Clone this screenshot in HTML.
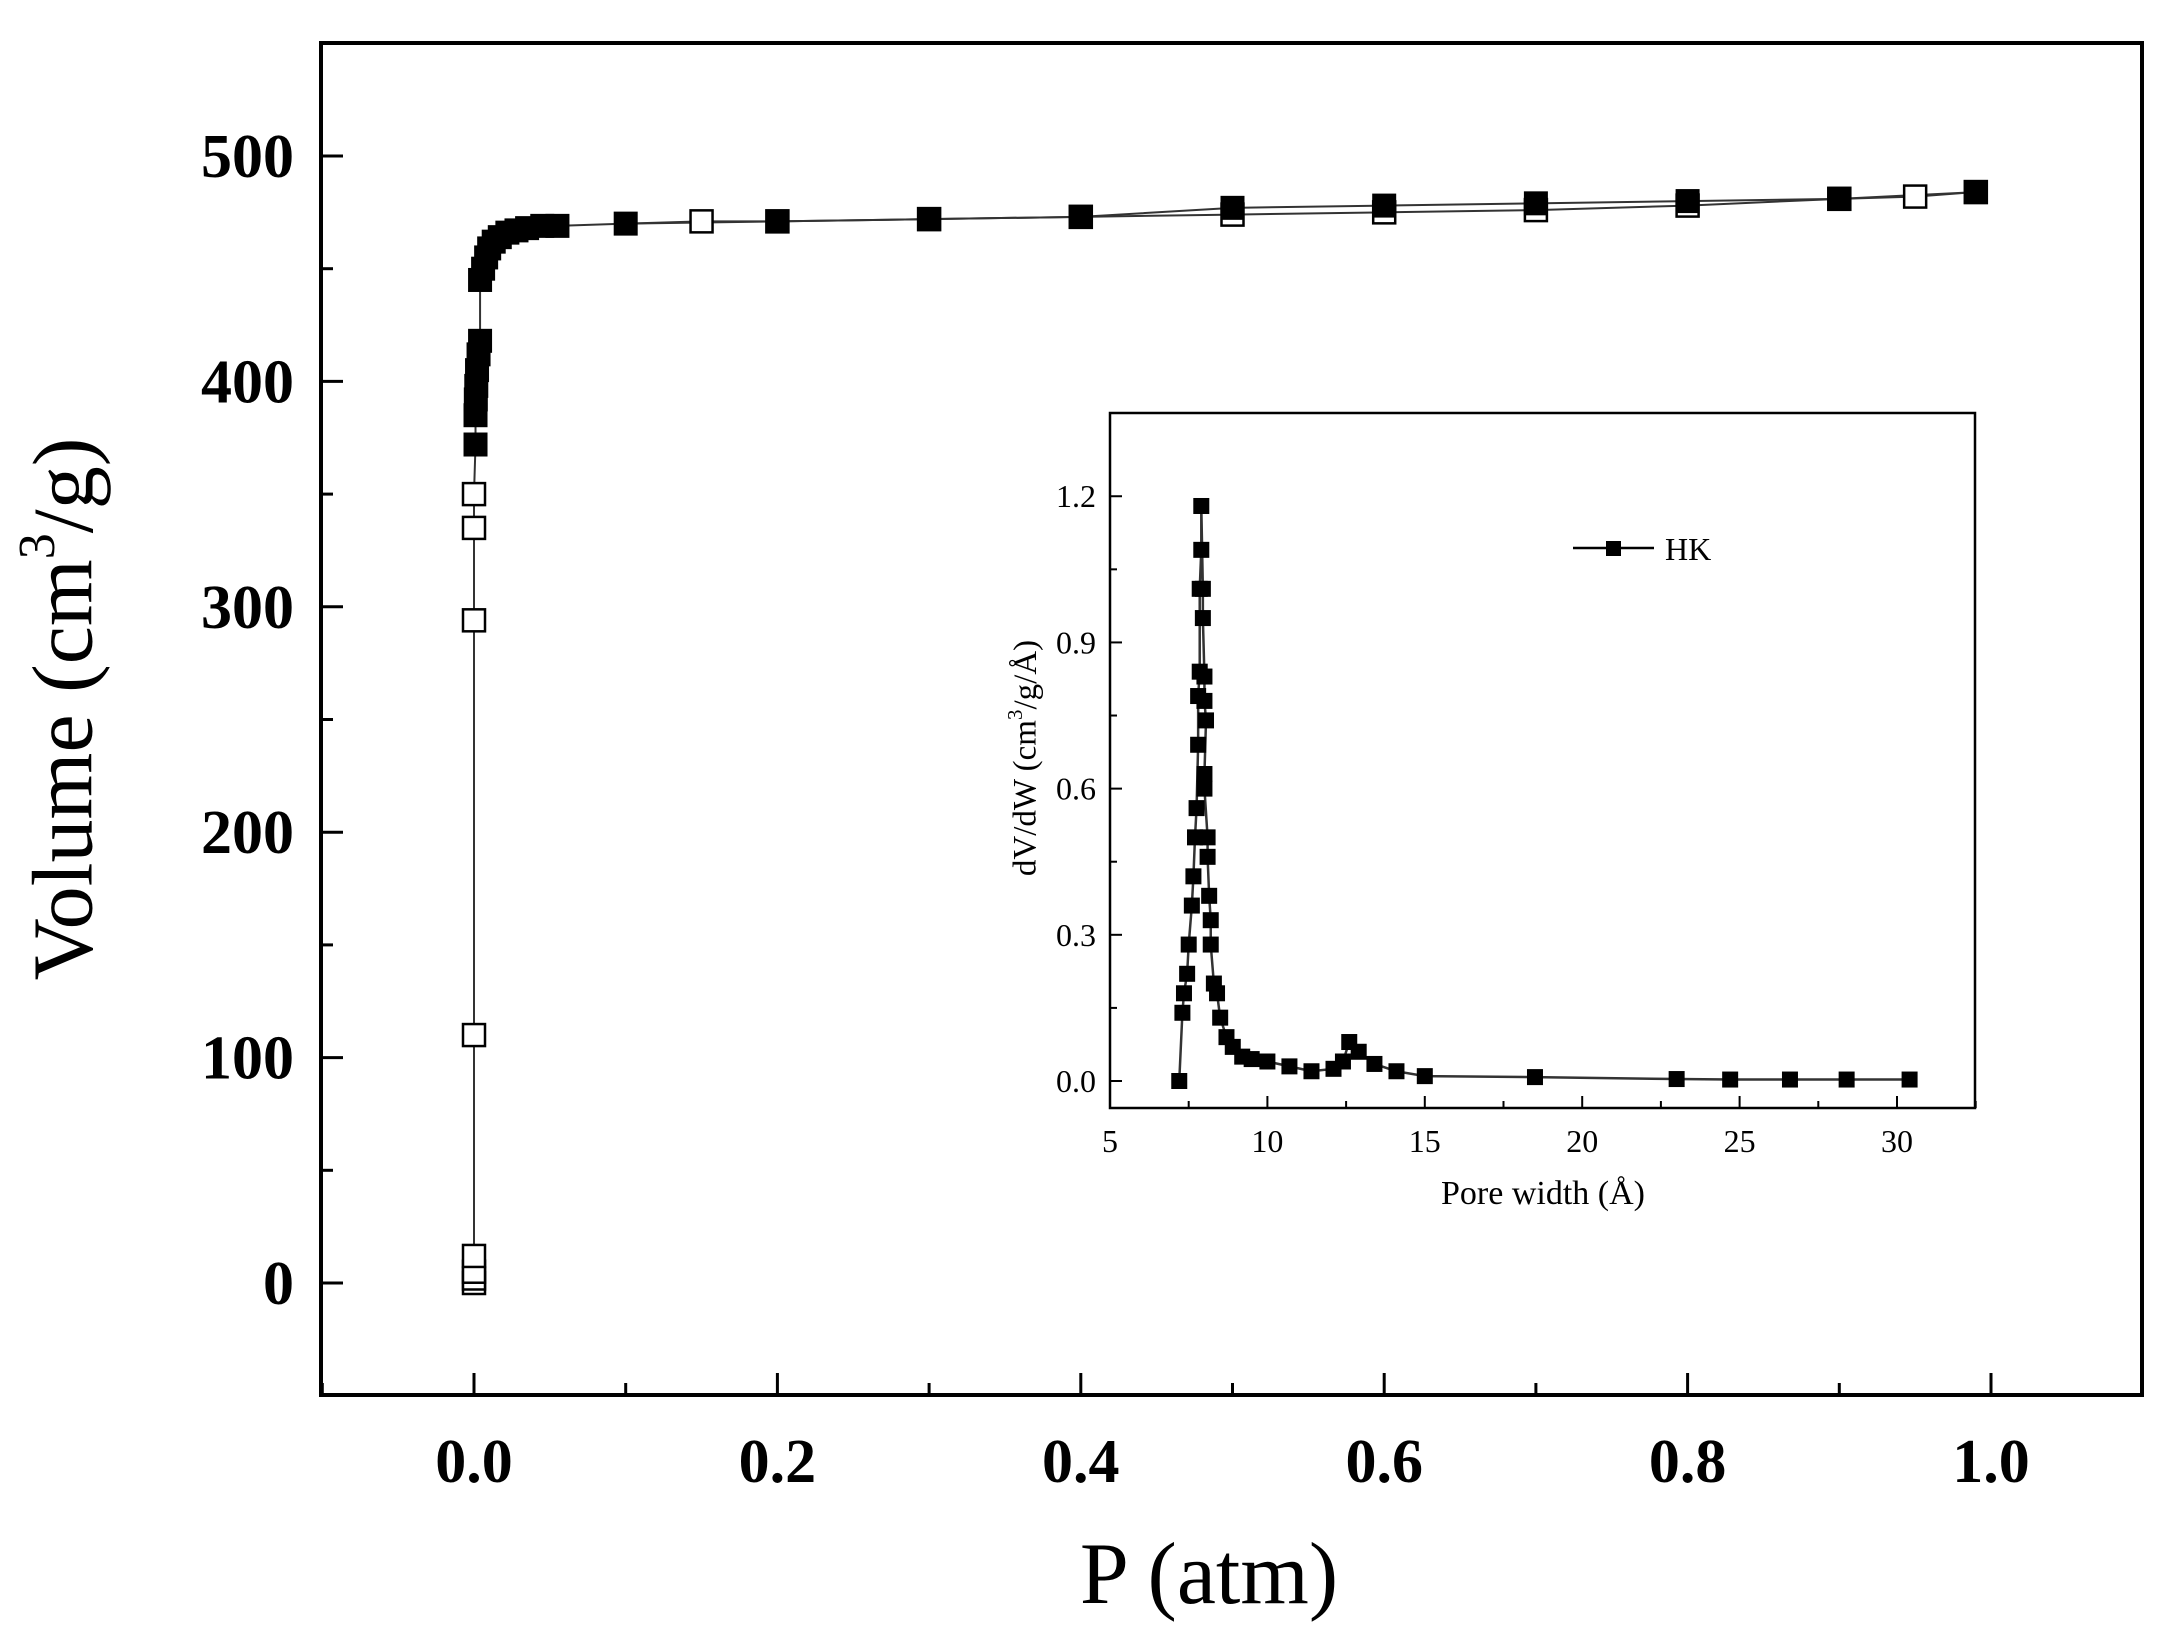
<!DOCTYPE html>
<html><head><meta charset="utf-8"><style>
html,body{margin:0;padding:0;background:#fff;}
svg{display:block;}
</style></head><body>
<svg id="s" width="2179" height="1643" xmlns="http://www.w3.org/2000/svg" font-family="Liberation Serif, serif">
<rect width="2179" height="1643" fill="#fff"/>
<rect x="321" y="43" width="1821" height="1352" fill="none" stroke="#000" stroke-width="4"/>
<g id="main"></g>
<text x="72" y="709" font-size="86" text-anchor="middle" transform="rotate(-90 72 709)" dominant-baseline="middle">Volume (cm<tspan font-size="52" dy="-30">3</tspan><tspan dy="30">/g)</tspan></text>
<text x="1209" y="1603" font-size="88" text-anchor="middle">P (atm)</text>
<rect x="990" y="405" width="990" height="820" fill="#fff"/>
<rect x="1110" y="413" width="865" height="695" fill="none" stroke="#000" stroke-width="2.5"/>
<g id="inset"></g>
<text x="1028" y="758" font-size="33" text-anchor="middle" transform="rotate(-90 1028 758)" dominant-baseline="middle">dV/dW (cm<tspan font-size="21" dy="-11">3</tspan><tspan dy="11">/g/Å)</tspan></text>
<text x="1543" y="1204" font-size="34" text-anchor="middle">Pore width (Å)</text>
<line x1="1573" y1="548" x2="1654" y2="548" stroke="#000" stroke-width="2.5"/>
<rect x="1606" y="541" width="15" height="15" fill="#000"/>
<text x="1665" y="560" font-size="32">HK</text>
</svg>
<script>
var NS="http://www.w3.org/2000/svg";
function el(p,t,a,txt){var e=document.createElementNS(NS,t);for(var k in a)e.setAttribute(k,a[k]);if(txt!==undefined)e.textContent=txt;p.appendChild(e);return e;}
var m=document.getElementById('main');
function X(p){return 474+p*1517;}function Y(v){return 1283-v*2.254;}
for(var i=-1;i<=11;i++){var x=474+i*151.7;if(x<321||x>2142)continue;var maj=(i%2==0);el(m,'line',{x1:x,y1:1395,x2:x,y2:1395-(maj?22:12),stroke:'#000','stroke-width':3});
if(maj&&i>=0&&i<=10)el(m,'text',{x:x,y:1482,'font-size':62,'font-weight':'bold','text-anchor':'middle'},(i/10).toFixed(1));}
for(var v=-50;v<=550;v+=50){var y=Y(v);if(y<43||y>1395)continue;var maj=(v%100==0);el(m,'line',{x1:321,y1:y,x2:321+(maj?22:12),y2:y,stroke:'#000','stroke-width':3});
if(maj)el(m,'text',{x:294,y:y+21,'font-size':62,'font-weight':'bold','text-anchor':'end'},v);}
var ads=[[0.001,372],[0.001,385],[0.0012,392],[0.0015,398],[0.002,405],[0.003,412],[0.004,418],[0.004,445],[0.006,450],[0.008,455],[0.01,459],[0.013,462],[0.017,464],[0.022,466],[0.028,467],[0.035,468],[0.045,469],[0.055,469],[0.1,470],[0.2,471],[0.3,472],[0.4,473],[0.5,477],[0.6,478],[0.7,479],[0.8,480],[0.9,481],[0.99,484]];
var desLow=[[0,0],[0,2],[0,5],[0,12],[0,110],[0,294],[0,335],[0,350],[0.001,372]];
var desHigh=[[0.1,470],[0.15,471],[0.2,471],[0.3,472],[0.4,473],[0.5,474],[0.6,475],[0.7,476],[0.8,478],[0.9,481],[0.95,482],[0.99,484]];
function pl(g,d,fx,fy,w){return el(g,'polyline',{points:d.map(function(q){return fx(q[0])+','+fy(q[1]);}).join(' '),fill:'none',stroke:'#333','stroke-width':w});}
pl(m,desLow,X,Y,2);pl(m,desHigh,X,Y,2);pl(m,ads,X,Y,2);
desLow.slice(0,8).concat(desHigh.slice(1)).forEach(function(q){el(m,'rect',{x:X(q[0])-11,y:Y(q[1])-11,width:22,height:22,fill:'#fff',stroke:'#000','stroke-width':2.5});});
ads.forEach(function(q){el(m,'rect',{x:X(q[0])-12,y:Y(q[1])-12,width:24,height:24,fill:'#000'});});
var n=document.getElementById('inset');
function IX(w){return 1110+(w-5)*31.48;}function IY(d){return 1081-d*487.3;}
for(var w=5;w<=32.5;w+=2.5){var x=IX(w);var maj=(w%5==0);el(n,'line',{x1:x,y1:1108,x2:x,y2:1108-(maj?12:7),stroke:'#000','stroke-width':2});
if(maj)el(n,'text',{x:x,y:1152,'font-size':32,'text-anchor':'middle'},w);}
for(var k=0;k<=8;k++){var d=k*0.15;var y=IY(d);var maj=(k%2==0);el(n,'line',{x1:1110,y1:y,x2:1110+(maj?12:7),y2:y,stroke:'#000','stroke-width':2});
if(maj)el(n,'text',{x:1096,y:y+11,'font-size':32,'text-anchor':'end'},d.toFixed(1));}
var hk=[[7.2,0],[7.3,0.14],[7.35,0.18],[7.45,0.22],[7.5,0.28],[7.6,0.36],[7.65,0.42],[7.7,0.5],[7.75,0.56],[7.8,0.69],[7.8,0.79],[7.85,0.84],[7.85,1.01],[7.9,1.09],[7.9,1.18],[7.95,1.01],[7.95,0.95],[8.0,0.83],[8.0,0.78],[8.05,0.74],[8.0,0.63],[8.0,0.6],[8.1,0.5],[8.1,0.46],[8.15,0.38],[8.2,0.33],[8.2,0.28],[8.3,0.2],[8.4,0.18],[8.5,0.13],[8.7,0.09],[8.9,0.07],[9.2,0.05],[9.5,0.045],[10,0.04],[10.7,0.03],[11.4,0.02],[12.1,0.025],[12.4,0.04],[12.6,0.08],[12.9,0.06],[13.4,0.035],[14.1,0.02],[15,0.01],[18.5,0.008],[23,0.004],[24.7,0.003],[26.6,0.003],[28.4,0.003],[30.4,0.003]];
pl(n,hk,IX,IY,2.5);
hk.forEach(function(q){el(n,'rect',{x:IX(q[0])-8,y:IY(q[1])-8,width:16,height:16,fill:'#000'});});
</script>
</body></html>
